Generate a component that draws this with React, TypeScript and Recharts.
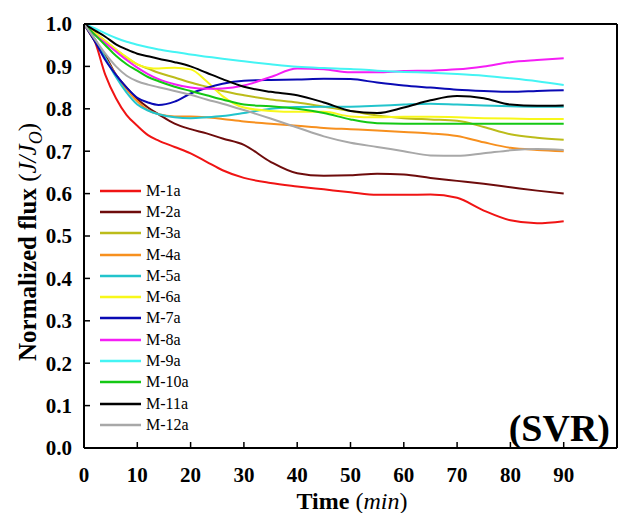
import React from 'react';
import { LineChart, Line, XAxis, YAxis, Legend, Label } from 'recharts';

// sampling times (min)
const times = [0, 2, 4, 6, 8, 10, 12, 14, 17, 20, 23, 26, 30, 35, 40, 45, 50, 55, 60, 65, 70, 75, 80, 85, 90];

// normalized flux J/Jo for each membrane
const m1a = [1.0, 0.96, 0.88, 0.825, 0.785, 0.76, 0.738, 0.725, 0.71, 0.695, 0.675, 0.655, 0.637, 0.625, 0.617, 0.61, 0.603, 0.597, 0.597, 0.598, 0.59, 0.56, 0.537, 0.53, 0.535];
const m2a = [1.0, 0.96, 0.925, 0.88, 0.85, 0.823, 0.803, 0.787, 0.765, 0.752, 0.742, 0.73, 0.715, 0.675, 0.648, 0.642, 0.643, 0.647, 0.645, 0.637, 0.63, 0.623, 0.615, 0.607, 0.6];
const m3a = [1.0, 0.98, 0.96, 0.94, 0.92, 0.905, 0.895, 0.885, 0.874, 0.862, 0.852, 0.842, 0.832, 0.822, 0.815, 0.805, 0.795, 0.784, 0.778, 0.775, 0.772, 0.757, 0.74, 0.732, 0.727];
const m4a = [1.0, 0.965, 0.92, 0.88, 0.845, 0.818, 0.797, 0.787, 0.782, 0.782, 0.78, 0.776, 0.77, 0.765, 0.76, 0.755, 0.752, 0.749, 0.745, 0.742, 0.736, 0.721, 0.708, 0.703, 0.7];
const m5a = [1.0, 0.965, 0.92, 0.875, 0.838, 0.81, 0.796, 0.787, 0.78, 0.778, 0.78, 0.783, 0.79, 0.8, 0.804, 0.805, 0.805, 0.807, 0.81, 0.812, 0.81, 0.808, 0.806, 0.805, 0.805];
const m6a = [1.0, 0.98, 0.96, 0.94, 0.922, 0.905, 0.897, 0.895, 0.897, 0.893, 0.865, 0.83, 0.803, 0.795, 0.793, 0.793, 0.782, 0.78, 0.781, 0.781, 0.78, 0.778, 0.777, 0.776, 0.776];
const m7a = [1.0, 0.96, 0.915, 0.88, 0.85, 0.826, 0.815, 0.809, 0.817, 0.836, 0.849, 0.859, 0.866, 0.868, 0.869, 0.871, 0.87, 0.862, 0.855, 0.85, 0.845, 0.842, 0.84, 0.842, 0.844];
const m8a = [1.0, 0.975, 0.955, 0.935, 0.915, 0.897, 0.882, 0.87, 0.858, 0.85, 0.847, 0.848, 0.855, 0.875, 0.895, 0.893, 0.886, 0.886, 0.889, 0.89, 0.893, 0.9, 0.91, 0.915, 0.919];
const m9a = [1.0, 0.99, 0.978, 0.967, 0.958, 0.951, 0.945, 0.94, 0.934, 0.928, 0.923, 0.918, 0.912, 0.905, 0.899, 0.896, 0.894, 0.89, 0.887, 0.885, 0.882, 0.878, 0.872, 0.865, 0.856];
const m10a = [1.0, 0.975, 0.95, 0.925, 0.905, 0.89, 0.875, 0.865, 0.852, 0.842, 0.832, 0.822, 0.81, 0.806, 0.8, 0.79, 0.775, 0.766, 0.765, 0.765, 0.765, 0.765, 0.765, 0.765, 0.765];
const m11a = [1.0, 0.985, 0.97, 0.952, 0.94, 0.93, 0.924, 0.918, 0.91, 0.9, 0.885, 0.87, 0.852, 0.84, 0.832, 0.815, 0.795, 0.79, 0.803, 0.82, 0.83, 0.825, 0.81, 0.807, 0.808];
const m12a = [1.0, 0.965, 0.93, 0.9, 0.878, 0.865, 0.857, 0.851, 0.842, 0.833, 0.822, 0.812, 0.797, 0.777, 0.756, 0.735, 0.72, 0.71, 0.7, 0.69, 0.689, 0.695, 0.702, 0.705, 0.703];

const seriesNames = ['M-1a', 'M-2a', 'M-3a', 'M-4a', 'M-5a', 'M-6a', 'M-7a', 'M-8a', 'M-9a', 'M-10a', 'M-11a', 'M-12a'];
const seriesValues = [m1a, m2a, m3a, m4a, m5a, m6a, m7a, m8a, m9a, m10a, m11a, m12a];
const seriesColors = ['#f01414', '#6e0c0c', '#bcbc1a', '#f7901e', '#22c4cc', '#f8f81a', '#0a0ab4', '#f51ef5', '#44f4f4', '#14c814', '#000000', '#a8a8a8'];

const xTicks = [0, 10, 20, 30, 40, 50, 60, 70, 80, 90];
const yTicks = [0, 0.1, 0.2, 0.3, 0.4, 0.5, 0.6, 0.7, 0.8, 0.9, 1.0];

const data = times.map((t, i) => {
  const row: Record<string, number> = { t };
  seriesNames.forEach((name, k) => {
    row[name] = seriesValues[k][i];
  });
  return row;
});

const FONT = 'Liberation Serif, Times New Roman, DejaVu Serif, serif';
const tickStyle = { fontSize: 21, fontWeight: 'bold', fill: '#000', style: { fontFamily: FONT } };
const axisLine = { stroke: '#000', strokeWidth: 2 };
const tickLine = { stroke: '#000', strokeWidth: 1.5 };

const XTitle = () => (
  <text x={352} y={509} textAnchor="middle" fontSize={24} fill="#000" style={{ fontFamily: FONT }}>
    <tspan fontWeight="bold">Time </tspan>
    <tspan>(</tspan>
    <tspan fontStyle="italic">min</tspan>
    <tspan>)</tspan>
  </text>
);

const YTitle = () => (
  <text transform="translate(36,242) rotate(-90)" textAnchor="middle" fontSize={25} fill="#000" style={{ fontFamily: FONT }}>
    <tspan fontWeight="bold">Normalized flux </tspan>
    <tspan>(</tspan>
    <tspan fontStyle="italic">J/J</tspan>
    <tspan fontStyle="italic" fontSize={18} dy={6}>O</tspan>
    <tspan dy={-6}>)</tspan>
  </text>
);

const SvrTag = () => (
  <text x={610} y={441} textAnchor="end" fontSize={38} fontWeight="bold" fill="#000" style={{ fontFamily: FONT }}>
    (SVR)
  </text>
);

const renderLegend = (props: any) => {
  const payload = [...(props.payload || [])].sort(
    (a: any, b: any) => seriesNames.indexOf(a.value) - seriesNames.indexOf(b.value)
  );
  return (
    <div style={{ fontFamily: FONT, fontSize: 16, color: '#000' }}>
      {payload.map((entry: any) => (
        <div key={entry.value} style={{ display: 'flex', alignItems: 'center', height: 21.3 }}>
          <svg width={41} height={4} style={{ display: 'block' }}>
            <line x1={0} y1={2} x2={41} y2={2} stroke={entry.color} strokeWidth={2.5} />
          </svg>
          <span style={{ marginLeft: 5, lineHeight: '16px' }}>{entry.value}</span>
        </div>
      ))}
    </div>
  );
};

export default function App() {
  return (
    <div style={{ position: 'absolute', left: 0, top: 0, width: 618, height: 513, background: '#fff', fontFamily: FONT }}>
      <LineChart width={618} height={513} data={data} margin={{ top: 0, right: 0, bottom: 0, left: 0 }}>
        <XAxis
          xAxisId="bottom"
          dataKey="t"
          type="number"
          domain={[0, 100]}
          ticks={xTicks}
          height={65}
          tick={tickStyle}
          tickSize={-6}
          tickMargin={25}
          axisLine={axisLine}
          tickLine={tickLine}
        >
          <Label content={() => <XTitle />} />
        </XAxis>
        <XAxis
          xAxisId="top"
          orientation="top"
          dataKey="t"
          type="number"
          domain={[0, 100]}
          ticks={xTicks}
          height={24}
          tick={false}
          tickSize={-6}
          axisLine={axisLine}
          tickLine={tickLine}
        />
        <YAxis
          yAxisId="left"
          type="number"
          domain={[0, 1]}
          ticks={yTicks}
          width={84}
          tick={tickStyle}
          tickFormatter={(v: number) => v.toFixed(1)}
          tickSize={-6}
          tickMargin={18}
          axisLine={axisLine}
          tickLine={tickLine}
        >
          <Label content={() => <YTitle />} />
        </YAxis>
        <YAxis
          yAxisId="right"
          orientation="right"
          type="number"
          domain={[0, 1]}
          ticks={yTicks}
          width={1}
          tick={false}
          tickSize={-6}
          axisLine={axisLine}
          tickLine={tickLine}
        >
          <Label content={() => <SvrTag />} />
        </YAxis>
        <Legend
          layout="horizontal"
          verticalAlign="middle"
          align="center"
          content={renderLegend}
          wrapperStyle={{ left: 100, top: 180, width: 'auto', height: 'auto' }}
        />
        {seriesNames.map((name, k) => (
          <Line
            key={name}
            xAxisId="bottom"
            yAxisId="left"
            type="monotone"
            dataKey={name}
            name={name}
            stroke={seriesColors[k]}
            strokeWidth={2}
            dot={false}
            activeDot={false}
            isAnimationActive={false}
          />
        ))}
      </LineChart>
    </div>
  );
}
